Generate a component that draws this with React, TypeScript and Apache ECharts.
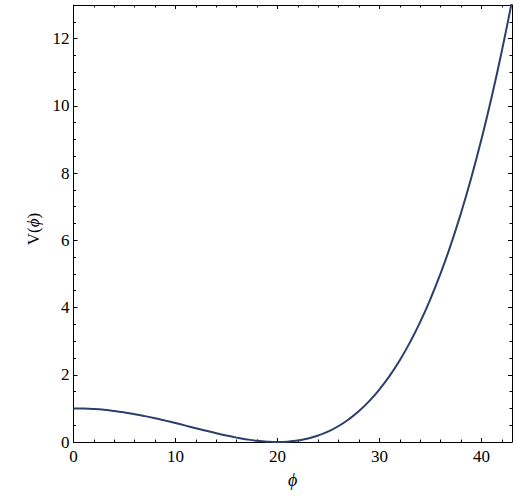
import React, { useEffect, useRef } from "react";
import * as echarts from "echarts";

const phi = [0,1,2,3,4,5,6,7,8,9,10,11,12,13,14,15,16,17,18,19,20,21,22,23,24,25,26,27,28,29,30,31,32,33,34,35,36,37,38,39,40,41,42,43];
const V = [1.0,0.995,0.98,0.956,0.922,0.879,0.828,0.77,0.706,0.636,0.563,0.487,0.41,0.334,0.26,0.191,0.13,0.077,0.036,0.01,0.0,0.011,0.044,0.104,0.194,0.316,0.476,0.677,0.922,1.216,1.563,1.967,2.434,2.967,3.572,4.254,5.018,5.868,6.812,7.854,9.0,10.256,11.628,13.12];
const xTicks = [0, 10, 20, 30, 40];
const yTicks = [0, 2, 4, 6, 8, 10, 12];

const FONT = "Liberation Serif";

export default function App() {
  const ref = useRef<HTMLDivElement>(null);
  useEffect(() => {
    const chart = echarts.init(ref.current!, null, { renderer: "svg" });
    const tick = { show: true, inside: true, length: 4, lineStyle: { color: "#000", width: 1 } };
    const line = { show: true, onZero: false, lineStyle: { color: "#000", width: 1 } };
    const xLabel = {
      show: true,
      margin: 6,
      color: "#000",
      fontFamily: FONT,
      fontSize: 17,
      formatter: (v: number) => (xTicks.includes(v) ? String(v) : ""),
    };
    const yLabel = {
      show: true,
      margin: 4,
      color: "#000",
      fontFamily: FONT,
      fontSize: 17,
      formatter: (v: number) => (yTicks.includes(v) ? String(v) : ""),
    };
    chart.setOption({
      animation: false,
      textStyle: { fontFamily: FONT, fontSize: 17, color: "#000" },
      grid: { left: 73.5, right: 5, top: 5, bottom: 54, containLabel: false },
      xAxis: [
        {
          type: "value",
          min: 0, max: 43, interval: 10,
          position: "bottom",
          axisLine: line,
          axisTick: tick,
          minorTick: { show: true, splitNumber: 5, length: 2.5, lineStyle: { color: "#000", width: 1 } },
          splitLine: { show: false },
          axisLabel: xLabel,
          name: "\u03d5",
          nameLocation: "middle",
          nameGap: 29,
          nameTextStyle: { color: "#000", fontFamily: FONT, fontSize: 18, fontStyle: "italic" },
        },
        {
          type: "value",
          min: 0, max: 43, interval: 10,
          position: "top",
          axisLine: line,
          axisTick: tick,
          minorTick: { show: true, splitNumber: 5, length: 2.5, lineStyle: { color: "#000", width: 1 } },
          splitLine: { show: false },
          axisLabel: { show: false },
        },
      ],
      yAxis: [
        {
          type: "value",
          min: 0, max: 13, interval: 2,
          position: "left",
          axisLine: line,
          axisTick: tick,
          minorTick: { show: true, splitNumber: 4, length: 2.5, lineStyle: { color: "#000", width: 1 } },
          splitLine: { show: false },
          axisLabel: yLabel,
          name: "V({i|\u03d5})",
          nameLocation: "middle",
          nameRotate: 90,
          nameGap: 26,
          nameTextStyle: {
            color: "#000", fontFamily: FONT, fontSize: 17, padding: [0, 11, 0, 0],
            rich: { i: { fontFamily: FONT, fontSize: 17, fontStyle: "italic", color: "#000" } },
          },
        },
        {
          type: "value",
          min: 0, max: 13, interval: 2,
          position: "right",
          axisLine: line,
          axisTick: tick,
          minorTick: { show: true, splitNumber: 4, length: 2.5, lineStyle: { color: "#000", width: 1 } },
          splitLine: { show: false },
          axisLabel: { show: false },
        },
      ],
      series: [
        {
          type: "line",
          data: phi.map((p, i) => [p, V[i]]),
          smooth: true,
          showSymbol: false,
          symbol: "none",
          clip: true,
          lineStyle: { color: "#2c3e6b", width: 2 },
        },
      ],
    });
    return () => chart.dispose();
  }, []);
  return <div ref={ref} style={{ position: "fixed", left: 0, top: 0, width: 517, height: 496, background: "#fff" }} />;
}
